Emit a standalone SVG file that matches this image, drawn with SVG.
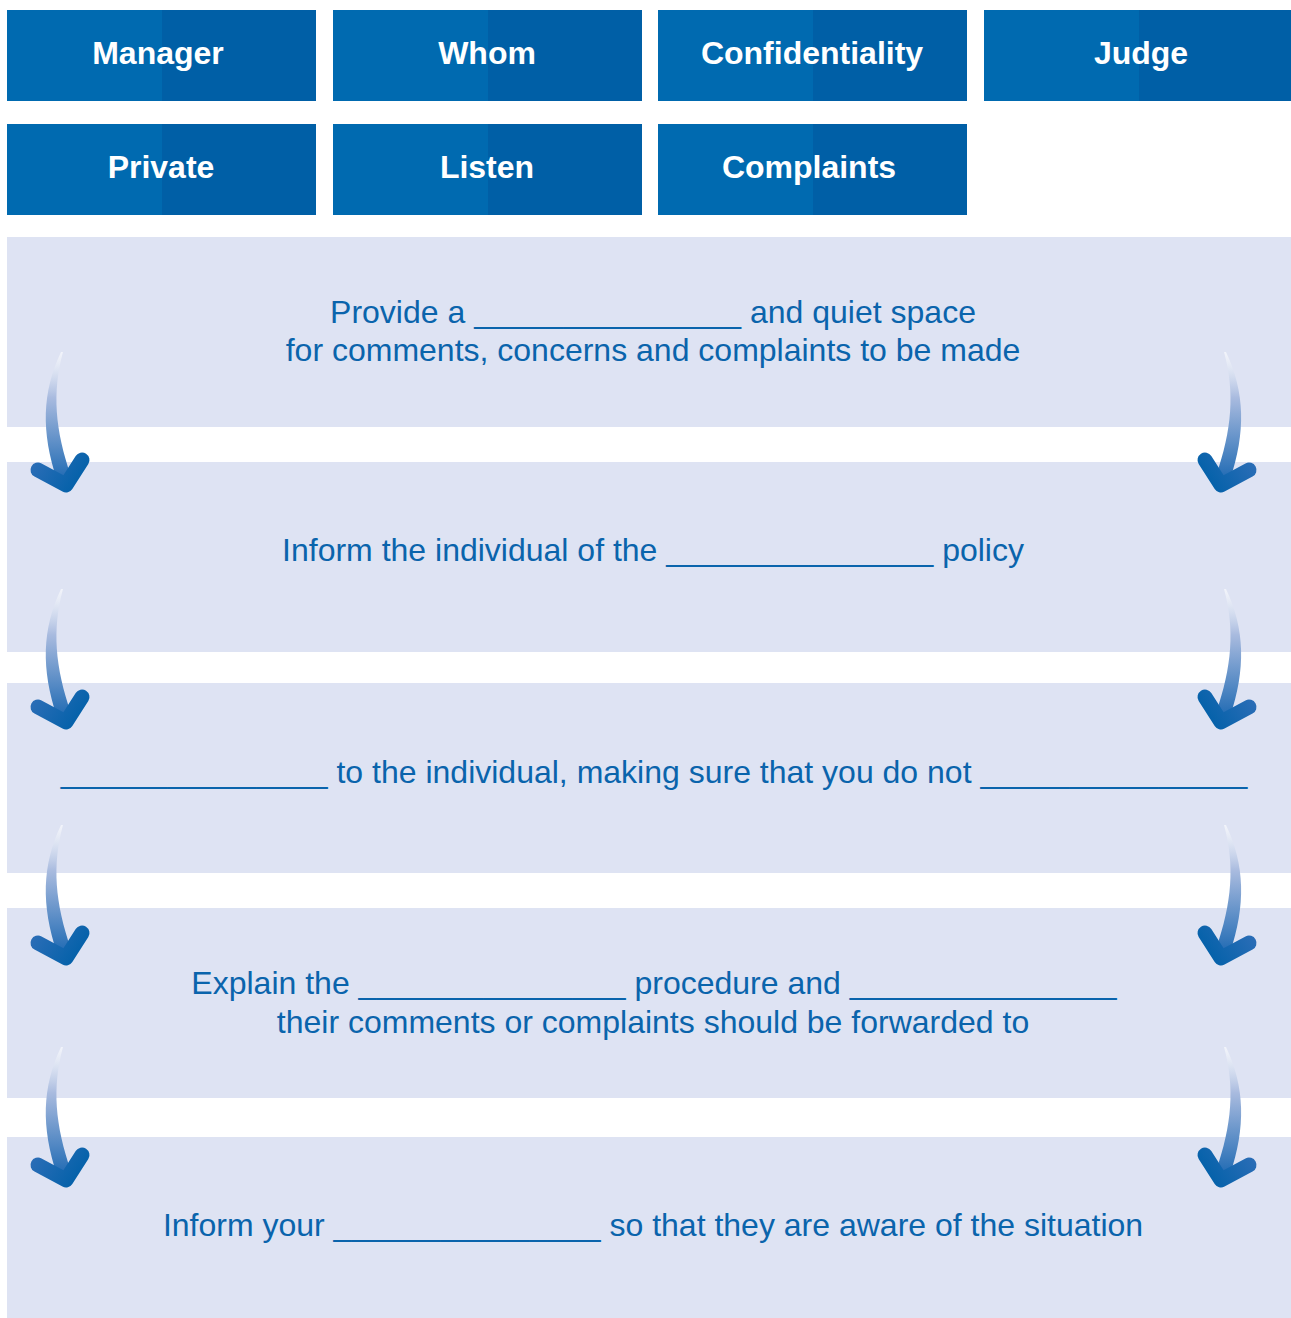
<svg xmlns="http://www.w3.org/2000/svg" xmlns:xlink="http://www.w3.org/1999/xlink" width="1291" height="1318" viewBox="0 0 1291 1318">
<defs>
<style>
.btnL{fill:#006AB0}
.btnR{fill:#005FA6}
.btxt{font-family:"Liberation Sans",Arial,sans-serif;font-weight:bold;font-size:32px;fill:#ffffff;text-anchor:middle}
.band{fill:#DEE3F3}
.ttxt{font-family:"Liberation Sans",Arial,sans-serif;font-size:32px;fill:#0A64AC;text-anchor:middle}
</style>
<linearGradient id="shaftG" gradientUnits="userSpaceOnUse" x1="0" y1="352" x2="0" y2="482">
<stop offset="0" stop-color="#ffffff" stop-opacity="0.6"/>
<stop offset="0.35" stop-color="#A9BBDF"/>
<stop offset="1" stop-color="#1C68B2"/>
</linearGradient>
<linearGradient id="headG" gradientUnits="userSpaceOnUse" x1="36" y1="460" x2="80" y2="490">
<stop offset="0" stop-color="#2A6DB6"/>
<stop offset="1" stop-color="#0060A8"/>
</linearGradient>
<g id="arrow">
<path d="M61,352 C42,392 41,432 57,480 L71,476 C55,430 52,392 63,352 Z" fill="url(#shaftG)"/>
<path d="M38,470 L66,485 L82,460" fill="none" stroke="url(#headG)" stroke-width="15" stroke-linecap="round" stroke-linejoin="round"/>
</g>
</defs>
<rect width="1291" height="1318" fill="#ffffff"/>
<g id="btn-manager"><rect class="btnL" x="7" y="10" width="309" height="91"/><rect class="btnR" x="162" y="10" width="154" height="91"/><text class="btxt" x="158" y="64">Manager</text></g>
<g id="btn-whom"><rect class="btnL" x="333" y="10" width="309" height="91"/><rect class="btnR" x="488" y="10" width="154" height="91"/><text class="btxt" x="487" y="64">Whom</text></g>
<g id="btn-confidentiality"><rect class="btnL" x="658" y="10" width="309" height="91"/><rect class="btnR" x="813" y="10" width="154" height="91"/><text class="btxt" x="812" y="64">Confidentiality</text></g>
<g id="btn-judge"><rect class="btnL" x="984" y="10" width="307" height="91"/><rect class="btnR" x="1139" y="10" width="152" height="91"/><text class="btxt" x="1141" y="64">Judge</text></g>
<g id="btn-private"><rect class="btnL" x="7" y="124" width="309" height="91"/><rect class="btnR" x="162" y="124" width="154" height="91"/><text class="btxt" x="161" y="178">Private</text></g>
<g id="btn-listen"><rect class="btnL" x="333" y="124" width="309" height="91"/><rect class="btnR" x="488" y="124" width="154" height="91"/><text class="btxt" x="487" y="178">Listen</text></g>
<g id="btn-complaints"><rect class="btnL" x="658" y="124" width="309" height="91"/><rect class="btnR" x="813" y="124" width="154" height="91"/><text class="btxt" x="809" y="178">Complaints</text></g>

<g id="step1"><rect class="band" x="7" y="237" width="1284" height="190"/>
<text class="ttxt" x="653" y="323">Provide a _______________ and quiet space</text>
<text class="ttxt" x="653" y="361">for comments, concerns and complaints to be made</text></g>
<g id="step2"><rect class="band" x="7" y="462" width="1284" height="190"/>
<text class="ttxt" x="653" y="561">Inform the individual of the _______________ policy</text></g>
<g id="step3"><rect class="band" x="7" y="683" width="1284" height="190"/>
<text class="ttxt" x="654" y="783">_______________ to the individual, making sure that you do not _______________</text></g>
<g id="step4"><rect class="band" x="7" y="908" width="1284" height="190"/>
<text class="ttxt" x="654" y="994">Explain the _______________ procedure and _______________</text>
<text class="ttxt" x="653" y="1033">their comments or complaints should be forwarded to</text></g>
<g id="step5"><rect class="band" x="7" y="1137" width="1284" height="181"/>
<text class="ttxt" x="653" y="1236">Inform your _______________ so that they are aware of the situation</text></g>

<g id="connectors">
<use xlink:href="#arrow"/>
<use xlink:href="#arrow" transform="matrix(-1 0 0 1 1287 0)"/>
<use xlink:href="#arrow" transform="translate(0 237)"/>
<use xlink:href="#arrow" transform="matrix(-1 0 0 1 1287 237)"/>
<use xlink:href="#arrow" transform="translate(0 473)"/>
<use xlink:href="#arrow" transform="matrix(-1 0 0 1 1287 473)"/>
<use xlink:href="#arrow" transform="translate(0 695)"/>
<use xlink:href="#arrow" transform="matrix(-1 0 0 1 1287 695)"/>
</g>
</svg>
